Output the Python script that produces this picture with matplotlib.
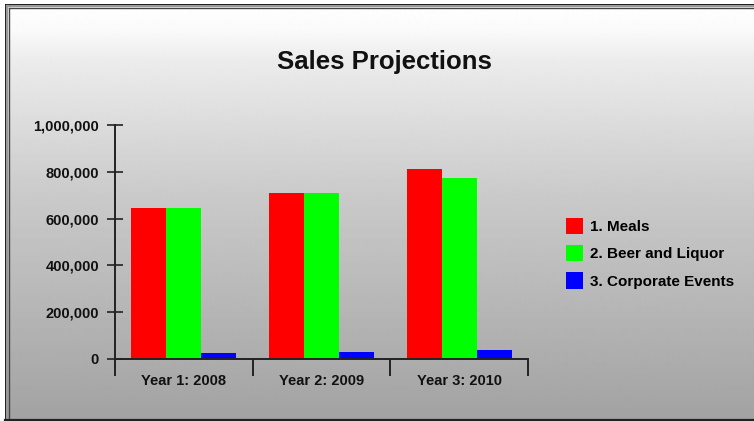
import numpy as np
import matplotlib.pyplot as plt
from matplotlib.patches import Patch
from matplotlib.lines import Line2D

plt.rcParams['font.family'] = ['Liberation Sans', 'DejaVu Sans']
plt.rcParams['font.weight'] = 'bold'

years = ['Year 1: 2008', 'Year 2: 2009', 'Year 3: 2010']
series = ['1. Meals', '2. Beer and Liquor', '3. Corporate Events']
meals = [645000, 708000, 812000]
beer = [645000, 708000, 772000]
corporate = [24000, 31000, 38000]
colors = ['#ff0000', '#00ff00', '#0000ff']

W, H = 754, 421
fig = plt.figure(figsize=(W / 100, H / 100), dpi=100, facecolor='white')

# grey gradient backdrop inside the frame
bg = fig.add_axes([5 / W, 0, 1 - 5 / W, 1 - 4 / H])
bg.set_axis_off()
rows = np.arange(4, H)
shade = np.interp(rows, [4, 30, 60, 195, 421], [255, 250, 236, 202, 162]) / 255
grad = np.repeat(shade[:, None], 2, axis=1)
bg.imshow(grad, cmap='gray', vmin=0, vmax=1, aspect='auto',
          extent=[0, 1, 0, 1], origin='upper')

# double frame lines
def px_line(x, y, lw, color):
    fig.add_artist(Line2D([v / W for v in x], [1 - v / H for v in y],
                          lw=lw, color=color))

px_line([5.5, 5.5], [4.5, 421], 1.4, '#111111')
px_line([5.5, W], [4.5, 4.5], 1.4, '#111111')
px_line([6.5, 6.5], [5.5, 421], 1.6, '#999999')
px_line([6.5, W], [5.5, 5.5], 1.6, '#999999')
px_line([8.5, 8.5], [7.5, 419], 1.0, '#444444')
px_line([8.5, W], [7.5, 7.5], 1.0, '#444444')
px_line([5, W], [420, 420], 1.6, '#222222')

fig.text(384.5 / W, 1 - 69.5 / H, 'Sales Projections', ha='center',
         va='baseline', fontsize=18.5, fontweight='bold', color='#111111')

ax = fig.add_axes([115 / W, (H - 359) / H, 413 / W, 234 / H])
ax.patch.set_alpha(0)

x = np.arange(len(years))
bw = 0.254
for i, (vals, name) in enumerate(zip([meals, beer, corporate], series)):
    ax.bar(x + (i - 1) * bw, vals, width=bw, color=colors[i], label=name,
           edgecolor='none')

ax.set_xlim(-0.5, 2.5)
ax.set_ylim(0, 1000000)
for s in ['top', 'right']:
    ax.spines[s].set_visible(False)
for s in ['left', 'bottom']:
    ax.spines[s].set_color('#222222')
    ax.spines[s].set_linewidth(1.4)

ax.set_yticks(np.arange(0, 1000001, 200000))
ax.set_yticklabels([f'{v:,}' for v in range(0, 1000001, 200000)])
ax.tick_params(axis='y', direction='inout', length=11, width=1.2,
               color='#222222', pad=6, labelsize=10.5)

ax.set_xticks(x)
ax.set_xticklabels(years)
ax.set_xticks([-0.5, 0.5, 1.5, 2.5], minor=True)
ax.tick_params(axis='x', which='major', length=0, pad=11, labelsize=10.5)
ax.tick_params(axis='x', which='minor', direction='out', length=12.5,
               width=1.4, color='#222222')
for lab in ax.get_xticklabels() + ax.get_yticklabels():
    lab.set_fontweight('bold')
    lab.set_color('#111111')

handles = [Patch(facecolor=c, edgecolor='none') for c in colors]
fig.legend(handles, series, loc='upper left',
           bbox_to_anchor=(566 / W, 1 - 218 / H), frameon=False,
           borderpad=0, borderaxespad=0, handlelength=1.1, handleheight=1.25,
           handletextpad=0.45, labelspacing=0.72,
           prop={'size': 11, 'weight': 'bold'})

fig.savefig('out.png', dpi=100, facecolor='white')
